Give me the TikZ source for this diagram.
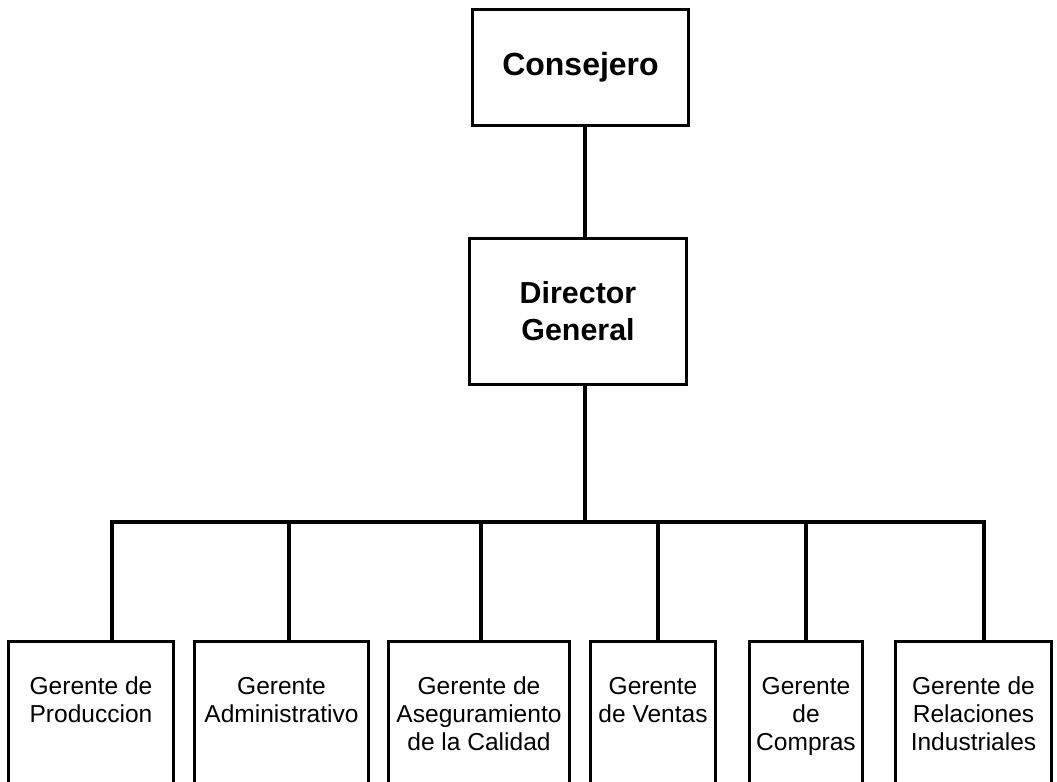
\documentclass[tikz,border=0pt]{standalone}
\usepackage{fontspec}
\setmainfont{Liberation Sans}

\tikzset{every picture/.style={line width=2.4pt}}
\tikzset{
  topbox/.style={draw, inner sep=0pt, align=center, font=\bfseries\fontsize{22.8}{27.75}\selectfont},
  gerbox/.style={draw, inner sep=0pt, anchor=north},
}
% top aligned text of the lower boxes
\newcommand{\gertext}[2]{\parbox[t][120pt][t]{#1}{\centering\fontsize{18.4}{21}\selectfont\rule{0pt}{40pt}#2}}

\begin{document}
\begin{tikzpicture}[x=0.75pt,y=0.75pt,yscale=-1,xscale=1]
\clip (0,0) rectangle (1057,782);

% Top Nodes
\node [topbox, minimum width=162pt, minimum height=87pt, font=\bfseries\fontsize{24}{28}\selectfont] (cons) at (580.5,67.5) {Consejero};
\node [topbox, minimum width=162.75pt, minimum height=109.5pt] (dir) at (578,311.5) {Director\\General};

% Lower Nodes
\node [gerbox, minimum width=123.75pt] (g1) at (91,639.5) {\gertext{117pt}{Gerente de\\Produccion}};
\node [gerbox, minimum width=130.5pt] (g2) at (281.5,639.5) {\gertext{125pt}{Gerente\\Administrativo}};
\node [gerbox, minimum width=135.75pt] (g3) at (479,639.5) {\gertext{131pt}{Gerente de\\Aseguramiento\\de la Calidad}};
\node [gerbox, minimum width=93.75pt] (g4) at (653,639.5) {\gertext{89pt}{Gerente\\de Ventas}};
\node [gerbox, minimum width=84.75pt] (g5) at (806,639.5) {\gertext{80pt}{Gerente\\de\\Compras}};
\node [gerbox, minimum width=117pt] (g6) at (973.5,639.5) {\gertext{111pt}{Gerente de\\Relaciones\\Industriales}};

% Bus points
\coordinate (bus) at (585,522);
\coordinate (d1) at (112,522);
\coordinate (d2) at (289,522);
\coordinate (d3) at (481,522);
\coordinate (d4) at (658,522);
\coordinate (d5) at (806,522);
\coordinate (d6) at (984,522);

% Straight Lines
\draw (cons.south -| bus) -- (dir.north -| bus);
\draw (dir.south -| bus) -- (bus);
\draw (g1.north -| d1) -- (d1) -- (d6) -- (g6.north -| d6);
\draw (d2) -- (g2.north -| d2);
\draw (d3) -- (g3.north -| d3);
\draw (d4) -- (g4.north -| d4);
\draw (d5) -- (g5.north -| d5);

\end{tikzpicture}
\end{document}
